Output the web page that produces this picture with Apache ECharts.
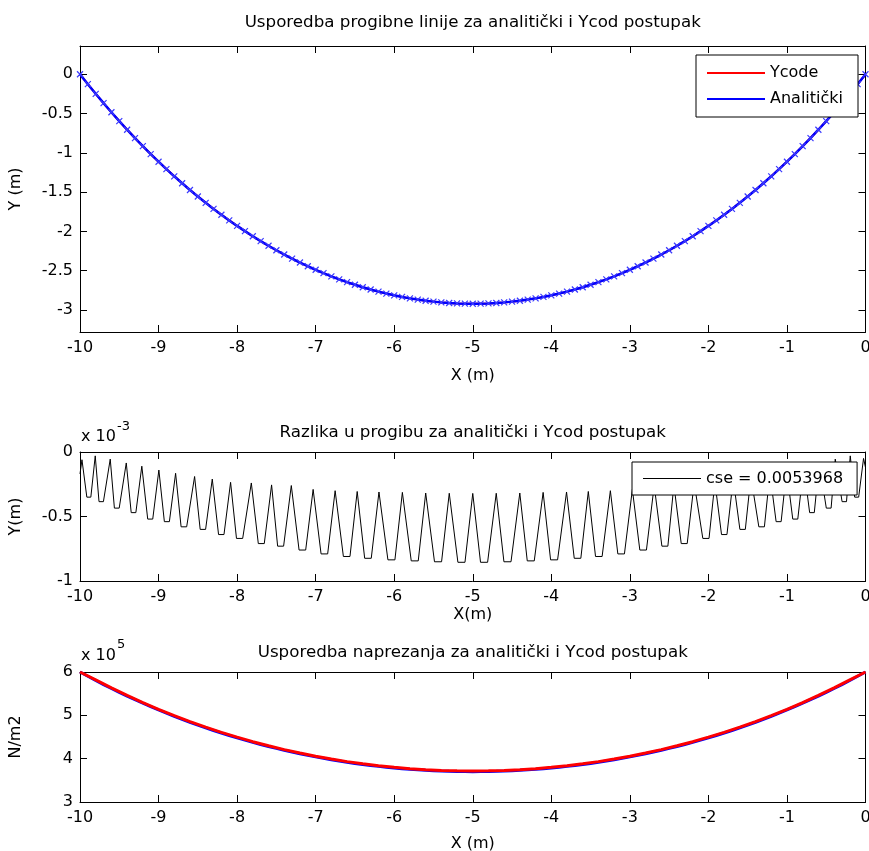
<!DOCTYPE html>
<html><head><meta charset="utf-8">
<script src="https://cdn.jsdelivr.net/npm/echarts@6/dist/echarts.min.js"></script>
<style>html,body{margin:0;padding:0;background:#fff;overflow:hidden}#c{width:869px;height:851px}</style>
</head><body><div id="c"></div>
<script>
const FONT = 'DejaVu Sans';

// ---------- DATA ----------
const xTicks = [-10,-9,-8,-7,-6,-5,-4,-3,-2,-1,0];
const deflTicks = [0,-0.5,-1,-1.5,-2,-2.5,-3];
const diffTicks = [0,-0.5,-1];
const stressTicks = [3,4,5,6];

// X (m), analytic grid (step 0.1)
const analyticX = [-10,-9.9,-9.8,-9.7,-9.6,-9.5,-9.4,-9.3,-9.2,-9.1,-9,-8.9,-8.8,-8.7,-8.6,-8.5,-8.4,-8.3,-8.2,-8.1,-8,-7.9,-7.8,-7.7,-7.6,-7.5,-7.4,-7.3,-7.2,-7.1,-7,-6.9,-6.8,-6.7,-6.6,-6.5,-6.4,-6.3,-6.2,-6.1,-6,-5.9,-5.8,-5.7,-5.6,-5.5,-5.4,-5.3,-5.2,-5.1,-5,-4.9,-4.8,-4.7,-4.6,-4.5,-4.4,-4.3,-4.2,-4.1,-4,-3.9,-3.8,-3.7,-3.6,-3.5,-3.4,-3.3,-3.2,-3.1,-3,-2.9,-2.8,-2.7,-2.6,-2.5,-2.4,-2.3,-2.2,-2.1,-2,-1.9,-1.8,-1.7,-1.6,-1.5,-1.4,-1.3,-1.2,-1.1,-1,-0.9,-0.8,-0.7,-0.6,-0.5,-0.4,-0.3,-0.2,-0.1,0];
// Y (m), analytic deflection
const deflAnalytic = [0,-0.1259,-0.2484,-0.3676,-0.4835,-0.5961,-0.7056,-0.8120,-0.9152,-1.0154,-1.1127,-1.2070,-1.2984,-1.3869,-1.4726,-1.5555,-1.6357,-1.7132,-1.7880,-1.8601,-1.9297,-1.9966,-2.0611,-2.1230,-2.1824,-2.2393,-2.2939,-2.3460,-2.3957,-2.4431,-2.4881,-2.5308,-2.5711,-2.6093,-2.6451,-2.6787,-2.7100,-2.7391,-2.7660,-2.7908,-2.8133,-2.8336,-2.8518,-2.8678,-2.8817,-2.8934,-2.9030,-2.9105,-2.9158,-2.9190,-2.9201,-2.9190,-2.9158,-2.9105,-2.9030,-2.8934,-2.8817,-2.8678,-2.8518,-2.8336,-2.8133,-2.7908,-2.7660,-2.7391,-2.7100,-2.6787,-2.6451,-2.6093,-2.5711,-2.5308,-2.4881,-2.4431,-2.3957,-2.3460,-2.2939,-2.2393,-2.1824,-2.1230,-2.0611,-1.9966,-1.9297,-1.8601,-1.7880,-1.7132,-1.6357,-1.5555,-1.4726,-1.3869,-1.2984,-1.2070,-1.1127,-1.0154,-0.9152,-0.8120,-0.7056,-0.5961,-0.4835,-0.3676,-0.2484,-0.1259,0];

// X (m), Ycode grid (step 0.2)
const ycodeX = [-10,-9.8,-9.6,-9.4,-9.2,-9,-8.8,-8.6,-8.4,-8.2,-8,-7.8,-7.6,-7.4,-7.2,-7,-6.8,-6.6,-6.4,-6.2,-6,-5.8,-5.6,-5.4,-5.2,-5,-4.8,-4.6,-4.4,-4.2,-4,-3.8,-3.6,-3.4,-3.2,-3,-2.8,-2.6,-2.4,-2.2,-2,-1.8,-1.6,-1.4,-1.2,-1,-0.8,-0.6,-0.4,-0.2,0];
const deflYcode = [0,-0.249,-0.484,-0.706,-0.916,-1.113,-1.299,-1.473,-1.636,-1.789,-1.930,-2.062,-2.183,-2.294,-2.396,-2.489,-2.572,-2.646,-2.711,-2.767,-2.814,-2.852,-2.882,-2.904,-2.916,-2.921,-2.916,-2.904,-2.882,-2.852,-2.814,-2.767,-2.711,-2.646,-2.572,-2.489,-2.396,-2.294,-2.183,-2.062,-1.930,-1.789,-1.636,-1.473,-1.299,-1.113,-0.916,-0.706,-0.484,-0.249,0];

// Razlika u progibu (x 10^-3 m)
const diffX = [-10,-9.975,-9.913,-9.862,-9.806,-9.758,-9.702,-9.615,-9.562,-9.501,-9.411,-9.348,-9.289,-9.213,-9.138,-9.074,-8.996,-8.926,-8.862,-8.783,-8.713,-8.642,-8.541,-8.470,-8.401,-8.316,-8.236,-8.167,-8.083,-8.008,-7.929,-7.819,-7.730,-7.654,-7.561,-7.484,-7.408,-7.310,-7.211,-7.127,-7.032,-6.931,-6.847,-6.752,-6.647,-6.563,-6.471,-6.376,-6.292,-6.194,-6.080,-5.991,-5.896,-5.783,-5.694,-5.599,-5.487,-5.397,-5.299,-5.189,-5.099,-5.0,
  -4.901,-4.811,-4.701,-4.603,-4.513,-4.401,-4.306,-4.217,-4.104,-4.009,-3.920,-3.806,-3.708,-3.624,-3.529,-3.437,-3.353,-3.248,-3.153,-3.069,-2.968,-2.873,-2.789,-2.690,-2.592,-2.516,-2.439,-2.346,-2.270,-2.181,-2.071,-1.992,-1.917,-1.833,-1.764,-1.684,-1.599,-1.530,-1.459,-1.358,-1.287,-1.217,-1.138,-1.074,-1.004,-0.926,-0.862,-0.787,-0.711,-0.652,-0.589,-0.499,-0.438,-0.385,-0.298,-0.242,-0.194,-0.138,-0.087,-0.025,0];
const diffY = [-0.17,-0.06,-0.35,-0.35,-0.03,-0.385,-0.385,-0.055,-0.435,-0.435,-0.085,-0.47,-0.47,-0.11,-0.52,-0.52,-0.14,-0.54,-0.54,-0.165,-0.58,-0.58,-0.19,-0.60,-0.60,-0.21,-0.64,-0.64,-0.235,-0.67,-0.67,-0.24,-0.71,-0.71,-0.255,-0.73,-0.73,-0.26,-0.76,-0.76,-0.29,-0.79,-0.79,-0.30,-0.81,-0.81,-0.306,-0.824,-0.824,-0.31,-0.836,-0.836,-0.313,-0.844,-0.844,-0.318,-0.851,-0.851,-0.32,-0.855,-0.855,-0.321,
  -0.855,-0.855,-0.32,-0.851,-0.851,-0.318,-0.844,-0.844,-0.313,-0.836,-0.836,-0.31,-0.824,-0.824,-0.306,-0.81,-0.81,-0.30,-0.79,-0.79,-0.29,-0.76,-0.76,-0.26,-0.73,-0.73,-0.255,-0.71,-0.71,-0.24,-0.67,-0.67,-0.235,-0.64,-0.64,-0.21,-0.60,-0.60,-0.19,-0.58,-0.58,-0.165,-0.54,-0.54,-0.14,-0.52,-0.52,-0.11,-0.47,-0.47,-0.085,-0.435,-0.435,-0.055,-0.385,-0.385,-0.03,-0.35,-0.35,-0.05,-0.12];
const cseLabel = 'cse = 0.0053968';

// Naprezanje (x 10^5 N/m2)
const stressAnalytic = [6.0000,5.9008,5.8044,5.7105,5.6193,5.5306,5.4444,5.3606,5.2794,5.2004,5.1238,5.0496,4.9776,4.9079,4.8405,4.7752,4.7120,4.6510,4.5921,4.5353,4.4806,4.4278,4.3771,4.3284,4.2816,4.2368,4.1938,4.1528,4.1136,4.0763,4.0409,4.0073,3.9755,3.9455,3.9173,3.8908,3.8661,3.8432,3.8220,3.8026,3.7848,3.7688,3.7545,3.7419,3.7309,3.7217,3.7142,3.7083,3.7041,3.7016,3.7008,3.7016,3.7041,3.7083,3.7142,3.7217,3.7309,3.7419,3.7545,3.7688,3.7848,3.8026,3.8220,3.8432,3.8661,3.8908,3.9173,3.9455,3.9755,4.0073,4.0409,4.0763,4.1136,4.1528,4.1938,4.2368,4.2816,4.3284,4.3771,4.4278,4.4806,4.5353,4.5921,4.6510,4.7120,4.7752,4.8405,4.9079,4.9776,5.0496,5.1238,5.2004,5.2794,5.3606,5.4444,5.5306,5.6193,5.7105,5.8044,5.9008,6.0000];
const stressYcode = [6.0,5.819,5.634,5.459,5.294,5.139,4.993,4.856,4.727,4.607,4.496,4.392,4.297,4.209,4.129,4.056,3.991,3.932,3.881,3.837,3.800,3.770,3.746,3.729,3.719,3.716,3.719,3.729,3.746,3.770,3.800,3.837,3.881,3.932,3.991,4.056,4.129,4.209,4.297,4.392,4.496,4.607,4.727,4.856,4.993,5.139,5.294,5.459,5.634,5.819,6.0];

// ---------- CHART ----------
const zip = (xs, ys) => xs.map((x, i) => [x, ys[i]]);
const txt = {fontFamily: FONT, fontSize: 16, color: '#000'};
const titleTxt = {fontFamily: FONT, fontSize: 16.7, color: '#000', fontWeight: 'normal'};
const GL = 80, GW = 785.5;
const grids = [
  {left: GL, top: 46, width: GW, height: 286, outerBoundsMode: 'none', containLabel: false},
  {left: GL, top: 452, width: GW, height: 129, outerBoundsMode: 'none', containLabel: false},
  {left: GL, top: 672, width: GW, height: 130, outerBoundsMode: 'none', containLabel: false}
];
const lineStyle = {color: '#000', width: 1};
function xAxes(g, name, gap) {
  const base = {gridIndex: g, type: 'value', min: -10, max: 0, interval: 1,
    axisLine: {show: true, onZero: false, lineStyle},
    splitLine: {show: false}};
  return [
    Object.assign({}, base, {position: 'bottom',
      axisLabel: Object.assign({margin: 8, customValues: xTicks}, txt),
      axisTick: {show: true, inside: true, length: 7, lineStyle, customValues: xTicks},
      name, nameLocation: 'middle', nameGap: gap, nameTextStyle: txt}),
    Object.assign({}, base, {position: 'top', axisLabel: {show: false},
      axisTick: {show: true, inside: true, length: 7, lineStyle, customValues: xTicks}})
  ];
}
function yAxes(g, min, max, ticks, name) {
  const base = {gridIndex: g, type: 'value', min, max,
    axisLine: {show: true, onZero: false, lineStyle},
    splitLine: {show: false}};
  return [
    Object.assign({}, base, {position: 'left',
      axisTick: {show: true, inside: true, length: 7, lineStyle, customValues: ticks},
      axisLabel: Object.assign({margin: 7, customValues: ticks}, txt),
      name, nameLocation: 'middle', nameGap: 56, nameTextStyle: txt}),
    Object.assign({}, base, {position: 'right', axisLabel: {show: false},
      axisTick: {show: true, inside: true, length: 7, lineStyle, customValues: ticks}})
  ];
}
const xMark = 'path://M0,0L10,10M0,10L10,0';
const option = {
  animation: false,
  backgroundColor: '#fff',
  title: [
    {text: 'Usporedba progibne linije za analitički i Ycod postupak', left: 472.75, top: 14, textAlign: 'center', padding: 0, textStyle: titleTxt},
    {text: 'Razlika u progibu za analitički i Ycod postupak', left: 472.75, top: 424, textAlign: 'center', padding: 0, textStyle: titleTxt},
    {text: 'Usporedba naprezanja za analitički i Ycod postupak', left: 472.75, top: 644, textAlign: 'center', padding: 0, textStyle: titleTxt}
  ],
  grid: grids,
  xAxis: [].concat(xAxes(0, 'X (m)', 36), xAxes(1, 'X(m)', 26), xAxes(2, 'X (m)', 34)),
  yAxis: [].concat(
    yAxes(0, -3.28, 0.36, deflTicks, 'Y (m)'),
    yAxes(1, -1, 0, diffTicks, 'Y(m)'),
    yAxes(2, 3, 6, stressTicks, 'N/m2')),
  legend: [
    {data: [{name: 'Ycode', icon: 'rect', itemStyle: {color: '#ff0000'}},
            {name: 'Analitički', icon: 'rect', itemStyle: {color: '#0000ff', borderWidth: 0}}],
     orient: 'vertical', left: 696, top: 55, itemWidth: 58, itemHeight: 2, itemGap: 6,
     padding: [8, 15, 8, 11], backgroundColor: '#fff', borderColor: '#000', borderWidth: 1, borderRadius: 0,
     selectedMode: false, textStyle: Object.assign({lineHeight: 20}, txt)},
    {data: [{name: cseLabel, icon: 'rect', itemStyle: {color: '#000'}}],
     orient: 'vertical', left: 632, top: 462, itemWidth: 58, itemHeight: 1,
     padding: [7, 14, 7, 11], backgroundColor: '#fff', borderColor: '#000', borderWidth: 1, borderRadius: 0,
     selectedMode: false, textStyle: Object.assign({lineHeight: 19}, txt)}
  ],
  graphic: [
    {type: 'text', x: 81, y: 437, style: {text: 'x 10', fontFamily: FONT, fontSize: 16, fill: '#000', verticalAlign: 'middle', textVerticalAlign: 'middle'}},
    {type: 'text', x: 117, y: 427, style: {text: '-3', fontFamily: FONT, fontSize: 13, fill: '#000', verticalAlign: 'middle', textVerticalAlign: 'middle'}},
    {type: 'text', x: 81, y: 656, style: {text: 'x 10', fontFamily: FONT, fontSize: 16, fill: '#000', verticalAlign: 'middle', textVerticalAlign: 'middle'}},
    {type: 'text', x: 117, y: 645, style: {text: '5', fontFamily: FONT, fontSize: 13, fill: '#000', verticalAlign: 'middle', textVerticalAlign: 'middle'}}
  ],
  series: [
    {name: 'Ycode', type: 'line', xAxisIndex: 0, yAxisIndex: 0, data: zip(ycodeX, deflYcode),
     showSymbol: false, lineStyle: {color: '#ff0000', width: 2}, itemStyle: {color: '#ff0000'}, emphasis: {disabled: true}},
    {name: 'Analitički', type: 'line', xAxisIndex: 0, yAxisIndex: 0, data: zip(analyticX, deflAnalytic),
     symbol: xMark, symbolSize: 6, showSymbol: true, showAllSymbol: true,
     lineStyle: {color: '#0000ff', width: 2.5},
     itemStyle: {color: 'rgba(0,0,0,0)', borderColor: '#3a3aff', borderWidth: 1.2}, emphasis: {disabled: true}},
    {name: cseLabel, type: 'line', xAxisIndex: 2, yAxisIndex: 2, data: zip(diffX, diffY),
     showSymbol: false, lineStyle: {color: '#000', width: 1}, itemStyle: {color: '#000'}, emphasis: {disabled: true}},
    {name: 'Analitički naprezanje', type: 'line', xAxisIndex: 4, yAxisIndex: 4, data: zip(analyticX, stressAnalytic),
     showSymbol: false, lineStyle: {color: '#0000ff', width: 3}, itemStyle: {color: '#0000ff'}, emphasis: {disabled: true}},
    {name: 'Ycode naprezanje', type: 'line', xAxisIndex: 4, yAxisIndex: 4, data: zip(ycodeX, stressYcode),
     showSymbol: false, lineStyle: {color: '#ff0000', width: 3}, itemStyle: {color: '#ff0000'}, emphasis: {disabled: true}}
  ]
};
const chart = echarts.init(document.getElementById('c'), null, {renderer: 'canvas'});
chart.setOption(option);
</script></body></html>
